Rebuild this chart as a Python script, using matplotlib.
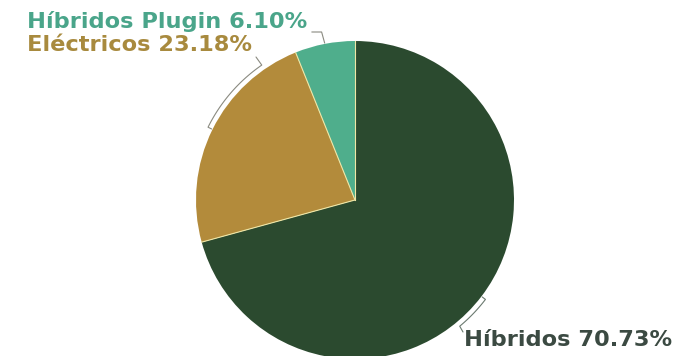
import numpy as np
import matplotlib
matplotlib.use('Agg')
import matplotlib.pyplot as plt

W, H = 684, 356

labels = ['Híbridos', 'Eléctricos', 'Híbridos Plugin']
values = [70.73, 23.18, 6.10]
colors = ['#2b4a2f', '#b38b3b', '#4fae8c']
text_colors = ['#3b4a42', '#a88a3e', '#4aa58a']

plt.rcParams['font.family'] = ['DejaVu Sans']

fig = plt.figure(figsize=(W / 100, H / 100), dpi=100)
ax = fig.add_axes([0, 0, 1, 1])

cx, cy, R = 355, H - 200, 159
wedges, _ = ax.pie(values, colors=colors, startangle=90, counterclock=False,
                   center=(cx, cy), radius=R, frame=True,
                   wedgeprops=dict(linewidth=0))
ax.set_xlim(0, W)
ax.set_ylim(0, H)
ax.set_aspect('equal')
ax.axis('off')
for w in wedges:
    w.set_clip_on(False)


def pt(ang, r):
    a = np.deg2rad(ang)
    return cx + r * np.cos(a), cy + r * np.sin(a)


# thin pale separators between slices
cum = np.cumsum([0] + values)
for c in cum[:-1]:
    x, y = pt(90 - 3.6 * c, R)
    ax.plot([cx, x], [cy, y], color='#efe6a6', lw=0.8)


def bracket(a0, a1, end, color):
    # tick out from the slice, arc just outside the edge, then to the label
    xs, ys = [], []
    x, y = pt(a0, R + 1)
    xs.append(x); ys.append(y)
    for a in np.linspace(a0, a1, 30):
        x, y = pt(a, R + 5)
        xs.append(x); ys.append(y)
    xs.append(end[0]); ys.append(end[1])
    ax.plot(xs, ys, color=color, lw=0.8, solid_capstyle='round')


# midpoints of each slice (clockwise from top)
mids = [90 - 3.6 * (cum[i] + cum[i + 1]) / 2 for i in range(len(values))]

fs = 16.2
# Híbridos (bottom right)
bracket(mids[0], mids[0] - 13, (463, H - 332), '#6b7a70')
ax.text(464, H - 340, f'{labels[0]} {values[0]:.2f}%', color=text_colors[0],
        fontsize=fs, fontweight='bold', va='center', ha='left')

# Eléctricos
bracket(mids[1], mids[1] - 29, (256, H - 57), '#8a8a80')
ax.text(27, H - 45, f'{labels[1]} {values[1]:.2f}%', color=text_colors[1],
        fontsize=fs, fontweight='bold', va='center', ha='left')

# Híbridos Plugin
x0, y0 = pt(mids[2], R + 1)
ax.plot([x0, x0 - 3, 312], [y0, H - 32, H - 32], color='#8a8a80', lw=0.8)
ax.text(27, H - 22, f'{labels[2]} {values[2]:.2f}%', color=text_colors[2],
        fontsize=fs, fontweight='bold', va='center', ha='left')

fig.savefig('out.png', dpi=100)
